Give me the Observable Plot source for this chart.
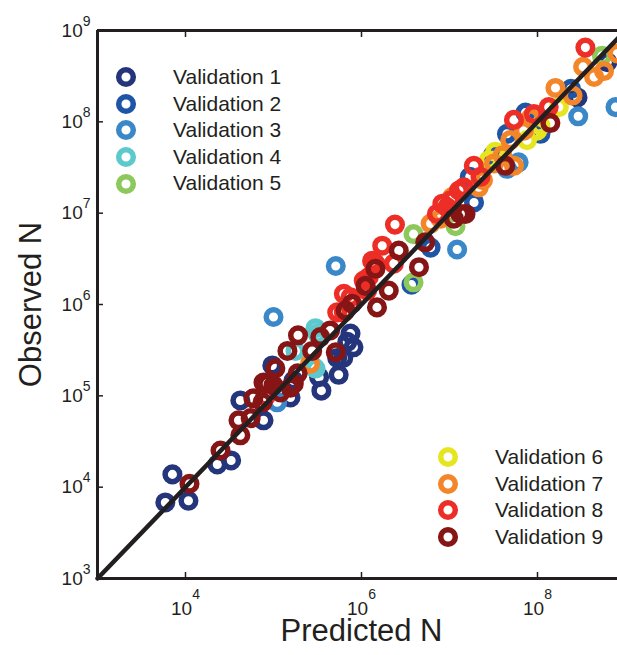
<!DOCTYPE html>
<html>
<head>
<meta charset="utf-8">
<script src="https://cdn.jsdelivr.net/npm/d3@7"></script>
<script src="https://cdn.jsdelivr.net/npm/@observablehq/plot@0.6"></script>
<style>
  html, body { margin: 0; padding: 0; background: white; }
  body { font-family: "Liberation Sans", Arial, Helvetica, sans-serif; color: #231f20; }
  #wrap { position: relative; width: 617px; height: 655px; overflow: hidden; }
  #wrap > svg { max-width: none !important; width: 625px; height: 655px; }
  .legend { position: absolute; font-size: 21px; line-height: 26.6px; color: #231f20; }
  .legend .item { position: relative; height: 26.6px; white-space: nowrap; }
  .legend svg { position: absolute; left: 0; top: 1.3px; }
  .legend span { position: absolute; left: 59px; top: 0; }
</style>
</head>
<body>
<div id="wrap"></div>
<script>
const seriesNames = ["Validation 1","Validation 2","Validation 3","Validation 4","Validation 5","Validation 6","Validation 7","Validation 8","Validation 9"];
const seriesColors = ["#24357c","#1f55a6","#3b88c9","#5ec9cc","#8cc85b","#e6e51f","#f4862a","#ec2e26","#861515"];

const v1Pred = [5.9e3, 1.08e4, 7.1e3, 2.3e4, 3.3e4, 4.2e4, 7.7e4, 9.7e4, 1.56e5, 1.69e5, 3.5e5, 3.3e5, 5.5e5, 5.3e5, 6.2e5, 6.9e5, 8.1e5, 7.5e5, 2.85e8, 6.2e8];
const v1Obs  = [6.8e3, 7.1e3, 1.38e4, 1.77e4, 1.96e4, 8.9e4, 5.4e4, 2.15e5, 9.6e4, 1.47e5, 1.14e5, 1.6e5, 1.7e5, 2.6e5, 2.6e5, 3.9e5, 3.4e5, 4.8e5, 1.85e8, 4.5e8];
const v2Pred = [3.7e6, 6.1e6, 1.7e7, 1.9e7, 3.1e7, 4.5e7, 7.3e7, 1.08e8, 2.4e8];
const v2Obs  = [1.65e6, 4.2e6, 2.5e7, 1.31e7, 4.3e7, 7.4e7, 1.26e8, 7.4e7, 2.3e8];
const v3Pred = [1.1e5, 1.0e5, 5.1e5, 1.22e7, 4.5e7, 6.1e7, 2.9e8, 7.7e8];
const v3Obs  = [8.5e4, 7.3e5, 2.64e6, 4.0e6, 3.06e7, 3.6e7, 1.15e8, 1.45e8];
const v4Pred = [1.78e5, 2.87e5, 3.0e5, 3.14e5, 3.0e5];
const v4Obs  = [3.1e5, 2.06e5, 1.99e5, 4.8e5, 5.5e5];
const v5Pred = [3.9e6, 3.9e6, 1.17e7, 5.4e8];
const v5Obs  = [5.9e6, 1.75e6, 7.2e6, 5.3e8];
const v6Pred = [2.8e7, 3.3e7, 7.6e7, 9.9e7, 1.08e8, 1.75e8];
const v6Obs  = [3.8e7, 4.7e7, 6.3e7, 8.0e7, 9.1e7, 1.45e8];
const v7Pred = [2.6e5, 6.1e6, 7.9e6, 1.07e7, 2.15e7, 2.4e7, 3.2e7, 4.0e7, 4.9e7, 5.4e7, 7.0e7, 8.3e7, 1.6e8, 2.5e8, 3.3e8, 4.4e8, 5.7e8, 8.1e8];
const v7Obs  = [2.24e5, 7.7e6, 8.7e6, 1.5e7, 1.92e7, 2.3e7, 3.5e7, 4.3e7, 6.3e7, 3.3e7, 8.0e7, 1.09e8, 2.35e8, 1.94e8, 4.0e8, 3.1e8, 3.6e8, 5.6e8];
const v8Pred = [8.1e4, 5.3e5, 6.3e5, 6.3e5, 7.5e5, 1.06e6, 1.16e6, 1.21e6, 1.32e6, 1.44e6, 1.72e6, 2.33e6, 2.4e6, 7.2e6, 8.3e6, 9.4e6, 1.03e7, 1.28e7, 1.45e7, 1.89e7, 2.25e7, 5.4e7, 9.1e7, 1.34e8, 3.5e8];
const v8Obs  = [9.8e4, 8.2e5, 8.2e5, 1.31e6, 1.2e6, 1.83e6, 1.42e6, 2.0e6, 3.0e6, 2.8e6, 4.4e6, 2.8e6, 7.5e6, 9.8e6, 1.27e7, 1.16e7, 1.38e7, 1.77e7, 1.92e7, 3.3e7, 2.5e7, 1.05e8, 1.22e8, 1.45e8, 6.5e8];
const v9Pred = [1.11e4, 2.5e4, 4.2e4, 4.0e4, 5.5e4, 5.9e4, 7.5e4, 7.7e4, 8.5e4, 1.0e5, 1.05e5, 1.2e5, 1.44e5, 1.56e5, 1.7e5, 1.88e5, 1.9e5, 2.75e5, 3.4e5, 4.4e5, 5.1e5, 6.6e5, 7.8e5, 1.11e6, 1.5e6, 1.44e6, 2.04e6, 2.65e6, 4.5e6, 5.3e6, 1.12e7, 1.33e7, 1.52e7, 4.3e7, 1.4e8];
const v9Obs  = [1.09e4, 2.52e4, 3.7e4, 5.4e4, 5.7e4, 9.4e4, 8.5e4, 1.4e5, 1.36e5, 1.3e5, 2.0e5, 1.09e5, 3.1e5, 1.23e5, 1.36e5, 1.76e5, 4.6e5, 3.1e5, 4.4e5, 5.2e5, 3.0e5, 8.6e5, 1.02e6, 1.6e6, 9.3e5, 2.46e6, 1.42e6, 3.9e6, 2.56e6, 4.8e6, 8.7e6, 9.8e6, 9.8e6, 3.3e7, 9.7e7];

const xTicks = [1e4, 1e6, 1e8];
const yTicks = [1e3, 1e4, 1e5, 1e6, 1e7, 1e8, 1e9];
const axisDomain = [1e3, 1e9];
const xLabel = "Predicted N";
const yLabel = "Observed N";

const allPred = [v1Pred, v2Pred, v3Pred, v4Pred, v5Pred, v6Pred, v7Pred, v8Pred, v9Pred];
const allObs  = [v1Obs, v2Obs, v3Obs, v4Obs, v5Obs, v6Obs, v7Obs, v8Obs, v9Obs];
const rows = [];
allPred.forEach((p, s) => p.forEach((v, i) => rows.push({series: seriesNames[s], pred: v, obs: allObs[s][i]})));

const ink = "#231f20";
const fmt = d => "10^" + Math.round(Math.log10(d));

const chart = Plot.plot({
  width: 625, height: 655,
  marginLeft: 97, marginRight: 0, marginTop: 30, marginBottom: 77,
  style: {fontFamily: "'Liberation Sans', Arial, sans-serif", color: ink, background: "white", overflow: "visible", maxWidth: "none"},
  x: {type: "log", domain: axisDomain},
  y: {type: "log", domain: axisDomain},
  color: {domain: seriesNames, range: seriesColors},
  marks: [
    Plot.dot(rows, {x: "pred", y: "obs", stroke: "series", r: 7.3, strokeWidth: 5.5, fill: "none"}),
    Plot.ruleX([axisDomain[0]], {stroke: ink, strokeWidth: 3}),
    Plot.ruleY(axisDomain, {stroke: ink, strokeWidth: 3}),
    Plot.axisY({ticks: yTicks, tickSize: -6, fill: "none", stroke: ink, strokeWidth: 1.5, label: null}),
    Plot.axisY({ticks: yTicks, tickSize: 0, tickPadding: 7, tickFormat: fmt, fontSize: 19, fill: ink, label: null}),
    Plot.axisX({ticks: xTicks, tickSize: -6, fill: "none", stroke: ink, strokeWidth: 1.5, label: null}),
    Plot.axisX({ticks: xTicks, anchor: "top", tickSize: -6, fill: "none", stroke: ink, strokeWidth: 1.5, label: null}),
    Plot.axisX({ticks: xTicks, tickSize: 0, tickPadding: 23, tickFormat: fmt, fontSize: 19, fill: ink, label: null}),
    Plot.line(axisDomain, {x: d => d, y: d => d, stroke: ink, strokeWidth: 4.5}),
    Plot.text([xLabel], {frameAnchor: "bottom", lineAnchor: "bottom", textAnchor: "middle", dy: 62, fontSize: 31, fill: ink}),
    Plot.text([yLabel], {frameAnchor: "left", lineAnchor: "bottom", textAnchor: "middle", rotate: -90, dx: -57, fontSize: 31, fill: ink})
  ]
});

// superscript exponents on tick labels
function supify(sel, raise) {
  chart.querySelectorAll(sel).forEach(t => {
    const s = t.textContent;
    const m = s.match(/^10\^(-?\d+)$/);
    if (!m) return;
    t.textContent = "";
    const base = document.createElementNS("http://www.w3.org/2000/svg", "tspan");
    base.textContent = "10";
    const ex = document.createElementNS("http://www.w3.org/2000/svg", "tspan");
    ex.textContent = m[1];
    ex.setAttribute("font-size", "14");
    ex.setAttribute("dy", String(-raise));
    t.appendChild(base);
    t.appendChild(ex);
  });
}
supify('g[aria-label="y-axis tick label"] text', 11);
supify('g[aria-label="x-axis tick label"] text', 16);

const wrap = document.getElementById("wrap");
wrap.appendChild(chart);

function legend(names, colors, left, top) {
  const box = document.createElement("div");
  box.className = "legend";
  box.style.left = left + "px";
  box.style.top = top + "px";
  names.forEach((n, i) => {
    const it = document.createElement("div");
    it.className = "item";
    it.innerHTML = `<svg width="24" height="24"><circle cx="12" cy="12" r="7.3" fill="none" stroke="${colors[i]}" stroke-width="5.5"/></svg><span>${n}</span>`;
    box.appendChild(it);
  });
  wrap.appendChild(box);
}
legend(seriesNames.slice(0, 5), seriesColors.slice(0, 5), 114, 64);
legend(seriesNames.slice(5), seriesColors.slice(5), 436, 444);
</script>
</body>
</html>
